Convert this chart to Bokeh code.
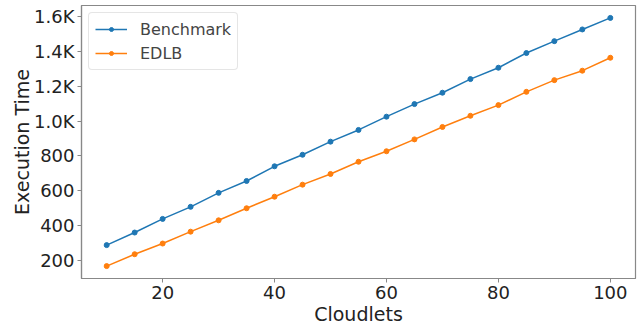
from bokeh.plotting import figure
from bokeh.models import CustomJSTickFormatter, Range1d, FixedTicker, Legend, LegendItem
from bokeh.embed import file_html
from bokeh.resources import INLINE

cloudlets = [10, 15, 20, 25, 30, 35, 40, 45, 50, 55, 60, 65, 70, 75, 80, 85, 90, 95, 100]
benchmark = [290, 362, 440, 509, 589, 657, 741, 807, 882, 949, 1025, 1097, 1162, 1240, 1305, 1389, 1457, 1524, 1590]
edlb = [170, 238, 299, 367, 432, 501, 567, 636, 697, 767, 827, 895, 966, 1030, 1091, 1167, 1234, 1288, 1362]
y_ticks = [200, 400, 600, 800, 1000, 1200, 1400, 1600]
x_ticks = [20, 40, 60, 80, 100]

FONT = "DejaVu Sans"
SPINE = "#888888"

p = figure(width=642, height=328, output_backend="svg", toolbar_location=None,
           min_border_left=81, min_border_right=7, min_border_top=5, min_border_bottom=50,
           x_range=Range1d(5.5, 104.5), y_range=Range1d(99, 1661))

r1l = p.line(cloudlets, benchmark, color="#1f77b4", line_width=1.5)
r1c = p.scatter(cloudlets, benchmark, color="#1f77b4", size=5)
r2l = p.line(cloudlets, edlb, color="#ff7f0e", line_width=1.5)
r2c = p.scatter(cloudlets, edlb, color="#ff7f0e", size=5)

legend = Legend(items=[LegendItem(label="Benchmark", renderers=[r1l, r1c]),
                       LegendItem(label="EDLB", renderers=[r2l, r2c])],
                location="top_left")
legend.label_text_font = FONT
legend.label_text_font_size = "16px"
legend.label_height = 20
legend.border_line_color = "#cccccc"
legend.border_line_width = 1
legend.border_radius = 4
legend.background_fill_alpha = 0.8
legend.margin = 7
legend.padding = 6
legend.spacing = 4
legend.glyph_width = 32
legend.glyph_height = 10
legend.label_standoff = 13
p.add_layout(legend)

p.xgrid.visible = False
p.ygrid.visible = False
p.outline_line_color = SPINE
p.outline_line_width = 1.2

p.xaxis.ticker = FixedTicker(ticks=x_ticks)
p.yaxis.ticker = FixedTicker(ticks=y_ticks)
p.yaxis.formatter = CustomJSTickFormatter(code="""
return tick >= 1000 ? (tick/1000).toFixed(1) + 'K' : tick.toFixed(0);
""")
p.xaxis.axis_label = "Cloudlets"
p.yaxis.axis_label = "Execution Time"
for ax in (p.xaxis[0], p.yaxis[0]):
    ax.axis_label_text_font = FONT
    ax.axis_label_text_font_size = "19px"
    ax.axis_label_text_font_style = "normal"
    ax.axis_label_text_color = "#222222"
    ax.major_label_text_font = FONT
    ax.major_label_text_font_size = "18px"
    ax.major_label_text_color = "#222222"
    ax.axis_line_color = SPINE
    ax.axis_line_width = 1.2
    ax.major_tick_line_color = SPINE
    ax.major_tick_out = 4
    ax.major_tick_in = 0
    ax.minor_tick_line_color = None
    ax.major_label_standoff = 3
p.yaxis[0].axis_label_standoff = -2
p.xaxis[0].axis_label_standoff = 1

open("out.html", "w").write(file_html(p, INLINE))
